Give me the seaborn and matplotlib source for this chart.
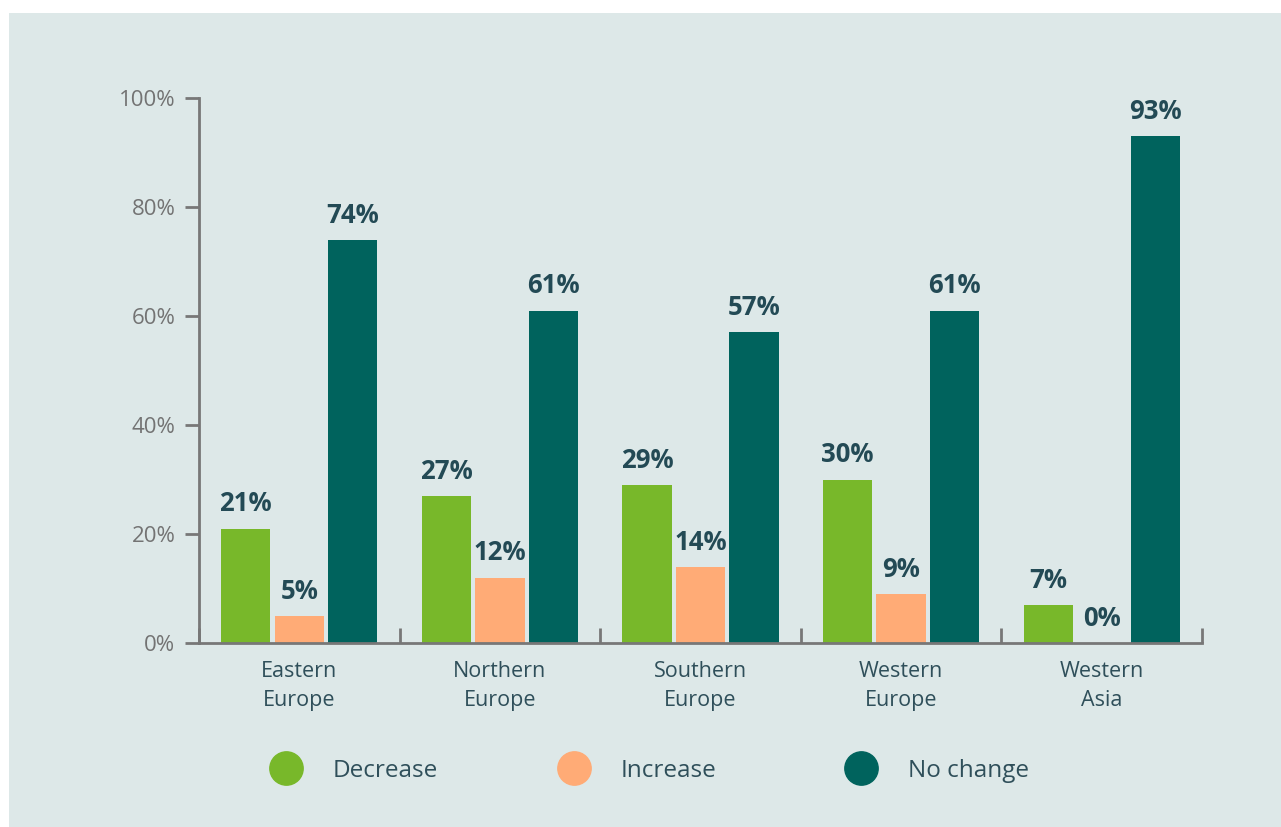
import matplotlib
matplotlib.use('Agg')
import matplotlib.pyplot as plt
from matplotlib.patches import Rectangle
from matplotlib.lines import Line2D
import seaborn as sns
import pandas as pd

# data
regions = ['Eastern\nEurope', 'Northern\nEurope', 'Southern\nEurope', 'Western\nEurope', 'Western\nAsia']
decrease = [21, 27, 29, 30, 7]
increase = [5, 12, 14, 9, 0]
no_change = [74, 61, 57, 61, 93]
series_names = ['Decrease', 'Increase', 'No change']
y_ticks = [0, 20, 40, 60, 80, 100]

colors = ['#78b82a', '#ffab76', '#00635d']
bg = '#dde8e8'
axis_grey = '#777777'
label_dark = '#234a55'

df = pd.DataFrame({
    'region': regions * 3,
    'series': [s for s in series_names for _ in regions],
    'value': decrease + increase + no_change,
})

sns.set_style('white')
plt.rcParams['font.family'] = ['Open Sans', 'DejaVu Sans']

fig = plt.figure(figsize=(12.81, 8.27), dpi=100, facecolor='white')
fig.patches.append(Rectangle((9 / 1281, 0), 1, 1 - 13 / 827, transform=fig.transFigure,
                             facecolor=bg, edgecolor='none', zorder=-10))
ax = fig.add_axes([199 / 1281, 1 - 643 / 827, (1202 - 199) / 1281, (643 - 98) / 827])
ax.set_facecolor('none')

sns.barplot(data=df, x='region', y='value', hue='series', palette=colors,
            width=0.8, gap=0.08, legend=False, ax=ax, saturation=1, linewidth=0)

for cont in ax.containers:
    ax.bar_label(cont, fmt='%d%%', padding=8, fontsize=18.5, fontweight='bold', color=label_dark)

ax.set_xlim(-0.5, len(regions) - 0.5)
ax.set_ylim(0, 100)
ax.set_yticks(y_ticks)
ax.set_yticklabels([f'{t}%' for t in y_ticks])
ax.set_xlabel('')
ax.set_ylabel('')

for side in ['top', 'right']:
    ax.spines[side].set_visible(False)
for side in ['left', 'bottom']:
    ax.spines[side].set_color(axis_grey)
    ax.spines[side].set_linewidth(2)

ax.tick_params(axis='y', length=10, width=2, color=axis_grey, labelcolor='#737373',
               labelsize=16, pad=7, left=True)
ax.tick_params(axis='x', which='major', length=0, labelcolor='#2f4f5a', labelsize=15.5, pad=13)
ax.set_xticks([i - 0.5 for i in range(len(regions) + 1)], minor=True)
ax.tick_params(axis='x', which='minor', direction='in', length=11, width=2, color=axis_grey, bottom=True)
for lbl in ax.get_xticklabels():
    lbl.set_linespacing(1.5)

# legend, one entry per position
legend_x = [271, 559, 846]
for name, col, lx in zip(series_names, colors, legend_x):
    h = Line2D([], [], marker='o', linestyle='none', markersize=24, markerfacecolor=col,
               markeredgecolor=col)
    fig.legend(handles=[h], labels=[name], loc='center left',
               bbox_to_anchor=(lx / 1281, 1 - 771 / 827), frameon=False,
               fontsize=17.5, labelcolor='#2f4f5a', handlelength=1.2, handletextpad=1.35,
               borderpad=0, borderaxespad=0)

fig.savefig('out.png', dpi=100, facecolor='white')
